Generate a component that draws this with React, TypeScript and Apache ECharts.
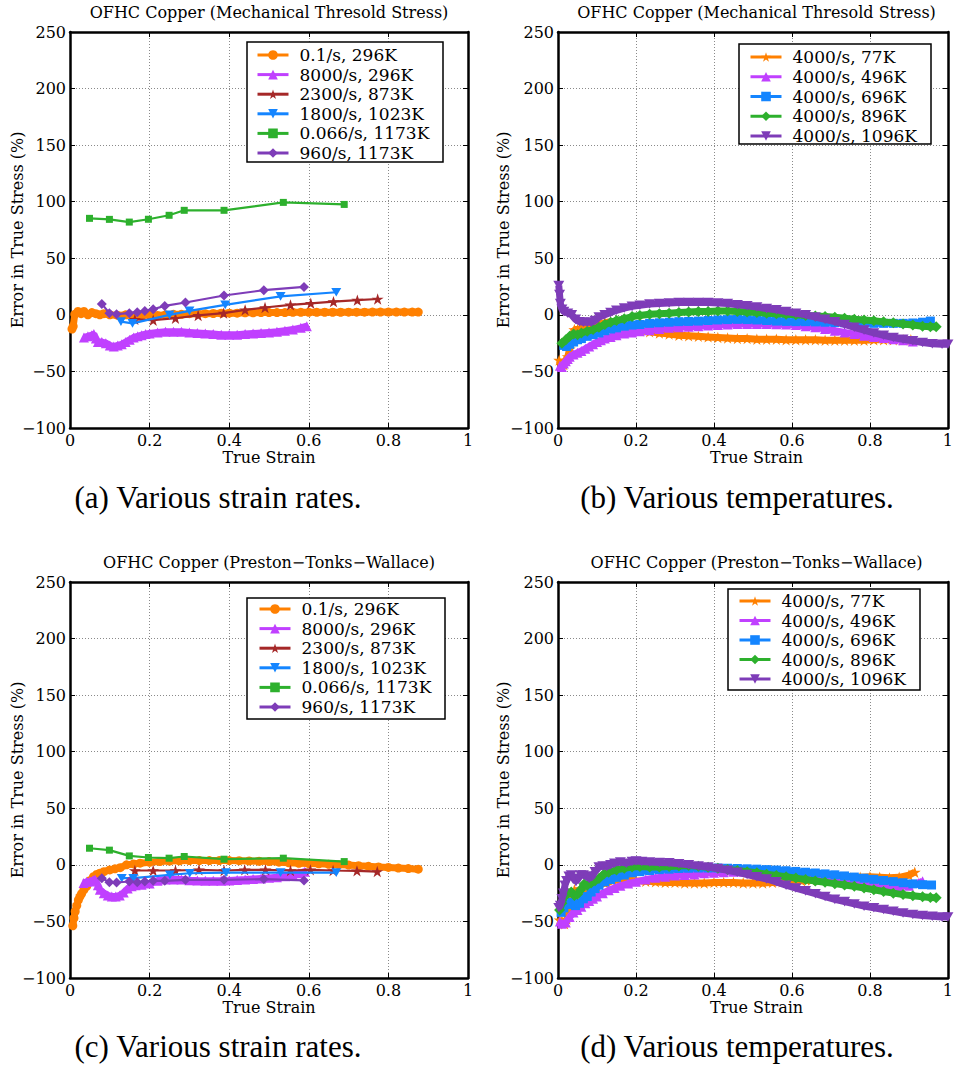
import React, { useEffect, useRef } from 'react';
import * as echarts from 'echarts';

const FONT = '"DejaVu Serif", serif';
const CAP_FONT = '"Liberation Serif", "Times New Roman", serif';

const X_MIN = 0, X_MAX = 1, X_STEP = 0.2;
const Y_MIN = -100, Y_MAX = 250, Y_STEP = 50;

const rateNames = ['0.1/s, 296K', '8000/s, 296K', '2300/s, 873K', '1800/s, 1023K', '0.066/s, 1173K', '960/s, 1173K'];
const tempNames = ['4000/s, 77K', '4000/s, 496K', '4000/s, 696K', '4000/s, 896K', '4000/s, 1096K'];

// ---------- (a) MTS, various strain rates ----------
const aRate01 = [[0.005,-12.5],[0.008,-10],[0.012,0.5],[0.02,3],[0.028,1],[0.035,3],[0.045,0],[0.055,2],[0.065,1],[0.075,0],[0.085,1],[0.1,0],[0.12,-0.5],[0.14,0],[0.16,-1],[0.18,-0.5],[0.2,0],[0.22,-0.5],[0.24,0],[0.26,0.5],[0.28,0.5],[0.3,1],[0.32,1],[0.34,1],[0.36,1.2],[0.38,1.5],[0.4,1.5],[0.42,1.5],[0.44,1.8],[0.46,1.8],[0.48,2],[0.5,2],[0.52,2],[0.54,2],[0.56,2.2],[0.58,2.2],[0.6,2.2],[0.62,2.2],[0.64,2.3],[0.66,2.3],[0.68,2.3],[0.7,2.4],[0.72,2.4],[0.74,2.4],[0.76,2.5],[0.78,2.5],[0.8,2.5],[0.82,2.5],[0.84,2.5],[0.86,2.5],[0.875,2.5]];
const aRate8000 = [[0.035,-20],[0.045,-19],[0.055,-18],[0.06,-17],[0.065,-21],[0.07,-24],[0.08,-24],[0.09,-25],[0.1,-27],[0.11,-28],[0.12,-27],[0.13,-26],[0.14,-24],[0.15,-22],[0.16,-20],[0.17,-19],[0.18,-18],[0.19,-17],[0.2,-16.5],[0.22,-15.5],[0.24,-15],[0.26,-15],[0.28,-15],[0.3,-15.5],[0.32,-16],[0.34,-16.5],[0.36,-17],[0.38,-17.5],[0.4,-17.5],[0.42,-17.5],[0.44,-17],[0.46,-16.5],[0.48,-16],[0.5,-15.5],[0.52,-15],[0.54,-14],[0.56,-13],[0.58,-11.5],[0.595,-10]];
const aRate2300 = [[0.163,-4],[0.209,-4.7],[0.265,-3],[0.322,-0.5],[0.386,1.5],[0.44,4.4],[0.49,6.5],[0.554,8.8],[0.605,10.2],[0.662,11.7],[0.722,13],[0.773,14]];
const aRate1800 = [[0.128,-6],[0.157,-7.5],[0.25,0],[0.3,3.5],[0.39,8.8],[0.529,16.3],[0.669,20]];
const aRate0066 = [[0.049,85.3],[0.099,84.4],[0.149,82],[0.197,84.5],[0.249,88],[0.287,92.4],[0.387,92.4],[0.536,99.4],[0.689,97.6]];
const aRate960 = [[0.08,9.7],[0.099,1.5],[0.117,0.6],[0.149,1.5],[0.169,2.4],[0.188,3.5],[0.209,5],[0.238,7.9],[0.29,10.9],[0.387,17.1],[0.487,21.8],[0.588,24.7]];

// ---------- (b) MTS, various temperatures ----------
const bTemp77 = [[0.003,-40],[0.01,-45],[0.015,-44],[0.02,-40],[0.025,-37],[0.03,-30],[0.035,-20],[0.042,-13],[0.05,-13],[0.06,-12],[0.07,-11.5],[0.08,-10],[0.09,-9],[0.1,-8.5],[0.11,-8],[0.12,-7],[0.135,-6],[0.15,-8],[0.17,-11],[0.19,-13],[0.21,-14],[0.235,-15],[0.26,-16],[0.285,-17],[0.31,-18],[0.335,-18.5],[0.36,-19],[0.385,-19.5],[0.41,-20],[0.435,-20.5],[0.46,-21],[0.485,-21],[0.51,-21.5],[0.535,-21.5],[0.56,-21.5],[0.585,-22],[0.61,-22],[0.635,-22],[0.66,-22],[0.685,-22.5],[0.71,-22.5],[0.735,-22.5],[0.76,-22.5],[0.785,-22.5],[0.81,-22],[0.835,-22],[0.86,-22],[0.885,-22],[0.905,-22]];
const bTemp496 = [[0.005,-45],[0.01,-46],[0.015,-43],[0.02,-41],[0.025,-39],[0.03,-37],[0.04,-35],[0.05,-33.5],[0.06,-32],[0.07,-30],[0.08,-28],[0.09,-26],[0.1,-24],[0.11,-22.5],[0.12,-21],[0.135,-19.5],[0.15,-18],[0.17,-16.5],[0.19,-15.5],[0.21,-14.5],[0.235,-13.5],[0.26,-12.5],[0.285,-11.5],[0.31,-11],[0.335,-10.5],[0.36,-10],[0.385,-9.5],[0.41,-9],[0.435,-8.5],[0.46,-8],[0.485,-8],[0.51,-8],[0.535,-8],[0.56,-8.2],[0.585,-8.5],[0.61,-9],[0.635,-10],[0.66,-11],[0.685,-12.5],[0.71,-14],[0.735,-15.5],[0.76,-17],[0.785,-18.5],[0.81,-19.5],[0.835,-20.5],[0.86,-21.5],[0.885,-22.5],[0.91,-23.5]];
const bTemp696 = [[0.015,-27],[0.022,-28],[0.03,-26],[0.04,-24],[0.05,-22],[0.06,-21],[0.075,-19],[0.09,-17.5],[0.105,-16],[0.12,-14],[0.135,-12.5],[0.15,-11.5],[0.17,-10],[0.19,-9],[0.21,-8.5],[0.235,-7.5],[0.26,-7],[0.285,-6.5],[0.31,-6],[0.335,-5.8],[0.36,-5.5],[0.385,-5],[0.41,-4.5],[0.435,-4.2],[0.46,-4],[0.485,-4.2],[0.51,-4.5],[0.535,-5],[0.56,-5.5],[0.585,-5.8],[0.61,-6],[0.635,-6],[0.66,-6.2],[0.685,-6.5],[0.71,-6.8],[0.735,-7],[0.76,-7.2],[0.785,-7.4],[0.81,-7.5],[0.835,-7.5],[0.86,-7.5],[0.885,-7.5],[0.91,-7.2],[0.935,-6.5],[0.955,-5.5]];
const bTemp896 = [[0.01,-25],[0.02,-22],[0.03,-19],[0.04,-17],[0.05,-17.5],[0.06,-16],[0.075,-14.5],[0.09,-13],[0.105,-11],[0.12,-8.5],[0.135,-6.5],[0.15,-5],[0.17,-3.5],[0.19,-1.5],[0.21,-0.5],[0.235,0.5],[0.26,1],[0.285,1.5],[0.31,2],[0.335,2.5],[0.36,3],[0.385,3],[0.41,3.5],[0.435,3.5],[0.46,3],[0.485,2.5],[0.51,2],[0.535,1.5],[0.56,1],[0.585,0.5],[0.61,0],[0.635,-0.5],[0.66,-1],[0.685,-1.5],[0.71,-2.2],[0.735,-3],[0.76,-3.8],[0.785,-4.5],[0.81,-5.3],[0.835,-6.2],[0.86,-7],[0.885,-8],[0.91,-9],[0.935,-10],[0.955,-10.5],[0.97,-10.5]];
const bTemp1096 = [[0.002,26],[0.004,18],[0.006,10],[0.01,5],[0.015,3],[0.025,1.5],[0.035,0],[0.045,-4],[0.055,-6],[0.065,-6.5],[0.075,-6.5],[0.085,-6.5],[0.095,-5],[0.105,-2],[0.12,0],[0.135,2],[0.15,4],[0.17,6],[0.19,7.5],[0.21,8.5],[0.235,9.5],[0.26,10],[0.285,10.5],[0.31,11],[0.335,11],[0.36,11],[0.385,11],[0.41,10.5],[0.435,10],[0.46,9],[0.485,8],[0.51,7],[0.535,5.5],[0.56,4.5],[0.585,3],[0.61,1.5],[0.635,0],[0.66,-2],[0.685,-4],[0.71,-6],[0.735,-8.5],[0.76,-11],[0.785,-13.5],[0.81,-16],[0.835,-18],[0.86,-20],[0.885,-21.5],[0.91,-23],[0.935,-24.5],[0.96,-25.5],[0.985,-26],[1.0,-26]];

// ---------- (c) PTW, various strain rates ----------
const cRate01 = [[0.007,-53.8],[0.01,-47],[0.013,-41.2],[0.017,-36],[0.021,-31],[0.025,-28],[0.029,-25.5],[0.035,-22],[0.042,-19],[0.05,-14],[0.059,-10.5],[0.067,-8.5],[0.075,-7.4],[0.085,-6],[0.1,-4.5],[0.113,-3.5],[0.126,-2.5],[0.142,0],[0.16,0.8],[0.176,1.5],[0.2,2.2],[0.226,2.9],[0.25,3.3],[0.275,3.6],[0.3,3.8],[0.325,3.8],[0.35,3.8],[0.375,3.8],[0.4,3.8],[0.425,3.7],[0.45,3.5],[0.475,3.2],[0.5,2.9],[0.525,2.4],[0.55,1.8],[0.575,1.4],[0.6,1.1],[0.625,0.9],[0.65,0.5],[0.675,0.2],[0.7,-0.2],[0.725,-0.8],[0.75,-1.3],[0.775,-1.8],[0.8,-2.3],[0.825,-2.8],[0.85,-3.3],[0.875,-3.8]];
const cRate8000 = [[0.034,-16],[0.042,-15],[0.05,-14.7],[0.058,-13.5],[0.063,-13],[0.07,-18],[0.075,-22],[0.085,-25],[0.095,-27],[0.105,-28],[0.115,-28],[0.125,-27],[0.135,-24.5],[0.145,-21],[0.155,-19],[0.165,-18],[0.18,-17.5],[0.2,-16.5],[0.22,-14],[0.24,-13],[0.26,-13],[0.28,-13],[0.3,-13.5],[0.32,-13.8],[0.34,-14],[0.36,-14],[0.38,-14],[0.4,-13.8],[0.42,-13.3],[0.44,-13],[0.46,-12.5],[0.48,-12],[0.5,-11.5],[0.52,-11],[0.54,-10],[0.56,-9],[0.575,-7.5],[0.59,-6]];
const cRate2300 = [[0.163,-5],[0.209,-5],[0.265,-5],[0.324,-4.4],[0.387,-5],[0.439,-4.4],[0.491,-4.4],[0.554,-5],[0.604,-4.4],[0.661,-5],[0.721,-5.3],[0.772,-5.9]];
const cRate1800 = [[0.13,-11.8],[0.159,-11.8],[0.251,-8.8],[0.301,-7.4],[0.392,-6.8],[0.529,-6.8],[0.669,-6.8]];
const cRate0066 = [[0.049,14.7],[0.099,13],[0.149,7.9],[0.197,6.5],[0.249,5.9],[0.287,7.4],[0.387,5],[0.536,5.9],[0.689,2.9]];
const cRate960 = [[0.08,-11.8],[0.099,-15.3],[0.117,-15.6],[0.149,-14.7],[0.169,-15.3],[0.188,-14.7],[0.209,-14.1],[0.238,-14.1],[0.29,-13.2],[0.387,-13.2],[0.487,-12.6],[0.588,-13.8]];

// ---------- (d) PTW, various temperatures ----------
const dTemp77 = [[0.004,-48.5],[0.01,-50],[0.017,-52],[0.023,-48],[0.029,-40],[0.035,-30],[0.042,-22],[0.05,-24],[0.06,-25],[0.07,-24],[0.08,-22],[0.09,-20],[0.1,-19],[0.12,-16],[0.14,-14],[0.16,-13],[0.18,-13.5],[0.2,-14],[0.225,-14.5],[0.25,-15],[0.275,-15.5],[0.3,-15.5],[0.325,-16],[0.35,-16],[0.375,-16],[0.4,-15.5],[0.425,-15.5],[0.45,-15.5],[0.475,-16],[0.5,-16],[0.525,-16],[0.55,-15.5],[0.575,-15],[0.6,-14.5],[0.625,-14],[0.65,-13.5],[0.675,-13],[0.7,-12.5],[0.725,-12],[0.75,-11.5],[0.775,-11],[0.8,-10.5],[0.825,-11],[0.85,-11.5],[0.875,-11],[0.9,-9],[0.915,-6.5]];
const dTemp496 = [[0.005,-50],[0.01,-52],[0.02,-51],[0.03,-46],[0.04,-42],[0.05,-40],[0.06,-37],[0.07,-34],[0.08,-32],[0.09,-30],[0.1,-28],[0.115,-25],[0.13,-22.5],[0.145,-20.5],[0.16,-18.5],[0.18,-16.5],[0.2,-15],[0.225,-13],[0.25,-11.5],[0.275,-10.5],[0.3,-9.5],[0.325,-9],[0.35,-8.5],[0.375,-7.5],[0.4,-7],[0.425,-6.5],[0.45,-6.2],[0.475,-6.2],[0.5,-6.5],[0.525,-7],[0.55,-7.8],[0.575,-8.5],[0.6,-9.5],[0.625,-10.5],[0.65,-11.5],[0.675,-12.5],[0.7,-13.5],[0.725,-14.5],[0.75,-15.5],[0.775,-16.5],[0.8,-17.5],[0.825,-18],[0.85,-18.5],[0.875,-19],[0.9,-18.5],[0.925,-16],[0.935,-14.5]];
const dTemp696 = [[0.008,-42],[0.015,-38],[0.025,-35],[0.035,-33],[0.045,-36],[0.055,-34],[0.065,-30],[0.075,-28],[0.085,-24],[0.095,-21],[0.105,-18],[0.12,-15],[0.135,-13],[0.15,-11],[0.17,-9],[0.19,-7],[0.21,-6],[0.235,-5],[0.26,-4.2],[0.285,-3.8],[0.31,-3.2],[0.335,-3],[0.36,-2.8],[0.385,-2.8],[0.41,-2.8],[0.435,-3],[0.46,-3.2],[0.485,-3.5],[0.51,-3.8],[0.535,-4.2],[0.56,-4.6],[0.585,-5.2],[0.61,-5.8],[0.635,-6.5],[0.66,-7.2],[0.685,-8],[0.71,-8.8],[0.735,-9.8],[0.76,-10.8],[0.785,-11.8],[0.81,-12.8],[0.835,-13.8],[0.86,-14.8],[0.885,-15.8],[0.91,-16.8],[0.935,-17.5],[0.958,-17.8]];
const dTemp896 = [[0.004,-40],[0.01,-34],[0.017,-28],[0.025,-25],[0.034,-24],[0.042,-27],[0.05,-26],[0.058,-22],[0.067,-17],[0.075,-18],[0.085,-16],[0.095,-14],[0.105,-12],[0.118,-8],[0.13,-6.5],[0.15,-4.5],[0.17,-3],[0.19,-2],[0.21,-1.5],[0.235,-2],[0.26,-1.8],[0.285,-1.5],[0.31,-1],[0.335,-0.5],[0.36,-1.2],[0.385,-2.2],[0.41,-3],[0.435,-4],[0.46,-5],[0.485,-6],[0.51,-7],[0.535,-8.2],[0.56,-9.3],[0.585,-10.5],[0.61,-11.7],[0.635,-13],[0.66,-14.2],[0.685,-15.4],[0.71,-16.6],[0.735,-17.8],[0.76,-19],[0.785,-20.5],[0.81,-22],[0.835,-23.5],[0.86,-25],[0.885,-26.3],[0.91,-27.3],[0.935,-28.2],[0.955,-28.8],[0.97,-29]];
const dTemp1096 = [[0.002,-38],[0.006,-36],[0.01,-30],[0.014,-25],[0.018,-18],[0.022,-14],[0.028,-10],[0.034,-9],[0.04,-12],[0.046,-15],[0.052,-12],[0.058,-9],[0.065,-9],[0.072,-10],[0.08,-12],[0.088,-10],[0.095,-6],[0.105,-2],[0.115,-1],[0.125,-1.5],[0.135,0],[0.145,1.5],[0.16,2.5],[0.175,1.5],[0.19,3],[0.2,3.5],[0.215,3],[0.235,2.5],[0.26,2],[0.285,1.8],[0.31,1],[0.335,0],[0.36,-1],[0.385,-2],[0.41,-3.2],[0.435,-4.8],[0.46,-6.5],[0.485,-8.5],[0.51,-10.5],[0.535,-12.5],[0.56,-15],[0.585,-18],[0.61,-20.5],[0.635,-23],[0.66,-25.5],[0.685,-28],[0.71,-30.5],[0.735,-32.5],[0.76,-34.5],[0.785,-36.5],[0.81,-38],[0.835,-39.5],[0.86,-41],[0.885,-42.5],[0.91,-43.8],[0.935,-44.8],[0.96,-45.5],[0.985,-46],[1.0,-46]];

const STAR = 'path://M50,0L61.2,34.5L97.6,34.5L68.2,55.9L79.4,90.5L50,69.1L20.6,90.5L31.8,55.9L2.4,34.5L38.8,34.5Z';
const DOWN = 'path://M0,0L10,0L5,8.66Z';

const C_ORANGE = '#FF8000';
const C_MAGENTA = '#C040FF';
const C_DARKRED = '#A52828';
const C_BLUE = '#1485FF';
const C_GREEN = '#2DB02D';
const C_PURPLE = '#7E3CB8';

const rateStyles = [
  { color: C_ORANGE, symbol: 'circle', size: 9, dense: true },
  { color: C_MAGENTA, symbol: 'triangle', size: 10, dense: true },
  { color: C_DARKRED, symbol: STAR, size: 12, dense: false },
  { color: C_BLUE, symbol: DOWN, size: 10, dense: false },
  { color: C_GREEN, symbol: 'rect', size: 7, dense: false },
  { color: C_PURPLE, symbol: 'diamond', size: 10, dense: false },
];
const tempStyles = [
  { color: C_ORANGE, symbol: STAR, size: 12, dense: true },
  { color: C_MAGENTA, symbol: 'triangle', size: 10, dense: true },
  { color: C_BLUE, symbol: 'rect', size: 9, dense: true },
  { color: C_GREEN, symbol: 'diamond', size: 11, dense: true },
  { color: C_PURPLE, symbol: DOWN, size: 11, dense: true },
];

const panels = [
  {
    left: 70, top: 32, width: 398, height: 396,
    title: 'OFHC Copper (Mechanical Thresold Stress)',
    caption: '(a) Various strain rates.', capX: 218, capY: 497, yNameX: 17,
    names: rateNames, styles: rateStyles,
    data: [aRate01, aRate8000, aRate2300, aRate1800, aRate0066, aRate960],
    box: { x: 247, y: 42, w: 196, h: 120 }, legendLeft: 256, legendTop: 46.5, legendGap: 2.6,
  },
  {
    left: 558, top: 32, width: 397, height: 396,
    title: 'OFHC Copper (Mechanical Thresold Stress)',
    caption: '(b) Various temperatures.', capX: 737, capY: 497, yNameX: 503,
    names: tempNames, styles: tempStyles,
    data: [bTemp77, bTemp496, bTemp696, bTemp896, bTemp1096],
    box: { x: 739, y: 44, w: 192, h: 100 }, legendLeft: 749, legendTop: 48.5, legendGap: 2.75,
  },
  {
    left: 70, top: 582, width: 398, height: 396,
    title: 'OFHC Copper (Preston\u2212Tonks\u2212Wallace)',
    caption: '(c) Various strain rates.', capX: 218, capY: 1046, yNameX: 17,
    names: rateNames, styles: rateStyles,
    data: [cRate01, cRate8000, cRate2300, cRate1800, cRate0066, cRate960],
    box: { x: 247, y: 598, w: 198, h: 121 }, legendLeft: 258, legendTop: 600.5, legendGap: 2.6,
  },
  {
    left: 558, top: 582, width: 397, height: 396,
    title: 'OFHC Copper (Preston\u2212Tonks\u2212Wallace)',
    caption: '(d) Various temperatures.', capX: 737, capY: 1046, yNameX: 503,
    names: tempNames, styles: tempStyles,
    data: [dTemp77, dTemp496, dTemp696, dTemp896, dTemp1096],
    box: { x: 728, y: 589, w: 192, h: 101 }, legendLeft: 738, legendTop: 592.5, legendGap: 2.5,
  },
];

const fmtX = (v: number) => String(+v.toFixed(1));
const fmtY = (v: number) => (v < 0 ? '\u2212' + Math.abs(v) : String(v));

function buildOption() {
  const grid: any[] = [];
  const xAxis: any[] = [];
  const yAxis: any[] = [];
  const series: any[] = [];
  const legend: any[] = [];
  const graphic: any[] = [];

  panels.forEach((p, i) => {
    grid.push({ left: p.left, top: p.top, width: p.width, height: p.height, show: false, containLabel: false });
    const axisLine = { show: true, onZero: false, lineStyle: { color: '#000', width: 2.5 } };
    const axisTick = { show: true, inside: true, length: 5, lineStyle: { color: '#000', width: 1 } };
    const split = { show: true, lineStyle: { color: '#8a8a8a', width: 1, type: [1, 2] } };
    xAxis.push({
      type: 'value', gridIndex: i, min: X_MIN, max: X_MAX, interval: X_STEP, position: 'bottom',
      axisLine, axisTick, splitLine: split,
      axisLabel: { show: true, margin: 4, color: '#000', fontFamily: FONT, fontSize: 16, formatter: fmtX },
    });
    xAxis.push({
      type: 'value', gridIndex: i, min: X_MIN, max: X_MAX, interval: X_STEP, position: 'top',
      axisLine, axisTick, splitLine: { show: false }, axisLabel: { show: false },
    });
    yAxis.push({
      type: 'value', gridIndex: i, min: Y_MIN, max: Y_MAX, interval: Y_STEP, position: 'left',
      axisLine, axisTick, splitLine: split,
      axisLabel: { show: true, margin: 4, color: '#000', fontFamily: FONT, fontSize: 16, formatter: fmtY },
    });
    yAxis.push({
      type: 'value', gridIndex: i, min: Y_MIN, max: Y_MAX, interval: Y_STEP, position: 'right',
      axisLine, axisTick, splitLine: { show: false }, axisLabel: { show: false },
    });

    p.data.forEach((d, k) => {
      const st = p.styles[k];
      series.push({
        type: 'line', name: p.names[k], xAxisIndex: 2 * i, yAxisIndex: 2 * i,
        data: d, symbol: st.symbol, symbolSize: st.size, symbolKeepAspect: true, showSymbol: true,
        lineStyle: { color: st.color, width: st.dense ? 7 : 2.2 },
        itemStyle: { color: st.color, borderWidth: 0 },
        emphasis: { disabled: true }, z: 2 + k * 0.01,
      });
    });

    legend.push({
      show: true, orient: 'vertical', left: p.legendLeft, top: p.legendTop, padding: 0,
      itemGap: p.legendGap, itemWidth: 31, itemHeight: 12, selectedMode: false,
      data: p.names, z: 20,
      lineStyle: { width: 3 },
      textStyle: { fontFamily: FONT, fontSize: 17, color: '#000', padding: [0, 0, 0, 6] },
    });

    graphic.push({
      type: 'rect', z: 10, shape: { x: p.box.x, y: p.box.y, width: p.box.w, height: p.box.h },
      style: { fill: '#fff', stroke: '#000', lineWidth: 1.5 },
    });
    const cx = p.left + p.width / 2;
    graphic.push({
      type: 'text', x: cx, y: p.top - 20, z: 10,
      style: { text: p.title, fontFamily: FONT, fontSize: 16, fill: '#000', align: 'center', verticalAlign: 'middle', textAlign: 'center', textVerticalAlign: 'middle' },
    });
    graphic.push({
      type: 'text', x: cx, y: p.top + p.height + 29, z: 10,
      style: { text: 'True Strain', fontFamily: FONT, fontSize: 16, fill: '#000', align: 'center', verticalAlign: 'middle', textAlign: 'center', textVerticalAlign: 'middle' },
    });
    graphic.push({
      type: 'text', x: p.yNameX, y: p.top + p.height / 2, rotation: Math.PI / 2, z: 10,
      style: { text: 'Error in True Stress (%)', fontFamily: FONT, fontSize: 16, fill: '#000', align: 'center', verticalAlign: 'middle', textAlign: 'center', textVerticalAlign: 'middle' },
    });
    graphic.push({
      type: 'text', x: p.capX, y: p.capY, z: 10,
      style: { text: p.caption, fontFamily: CAP_FONT, fontSize: 31, fill: '#000', align: 'center', verticalAlign: 'middle', textAlign: 'center', textVerticalAlign: 'middle' },
    });
  });

  return { animation: false, backgroundColor: '#fff', grid, xAxis, yAxis, series, legend, graphic };
}

export default function App() {
  const ref = useRef<HTMLDivElement>(null);
  useEffect(() => {
    if (!ref.current) return;
    const chart = echarts.init(ref.current, undefined, { renderer: 'svg' });
    chart.setOption(buildOption() as any);
    return () => chart.dispose();
  }, []);
  return <div ref={ref} style={{ position: 'absolute', left: 0, top: 0, width: 956, height: 1068 }} />;
}
